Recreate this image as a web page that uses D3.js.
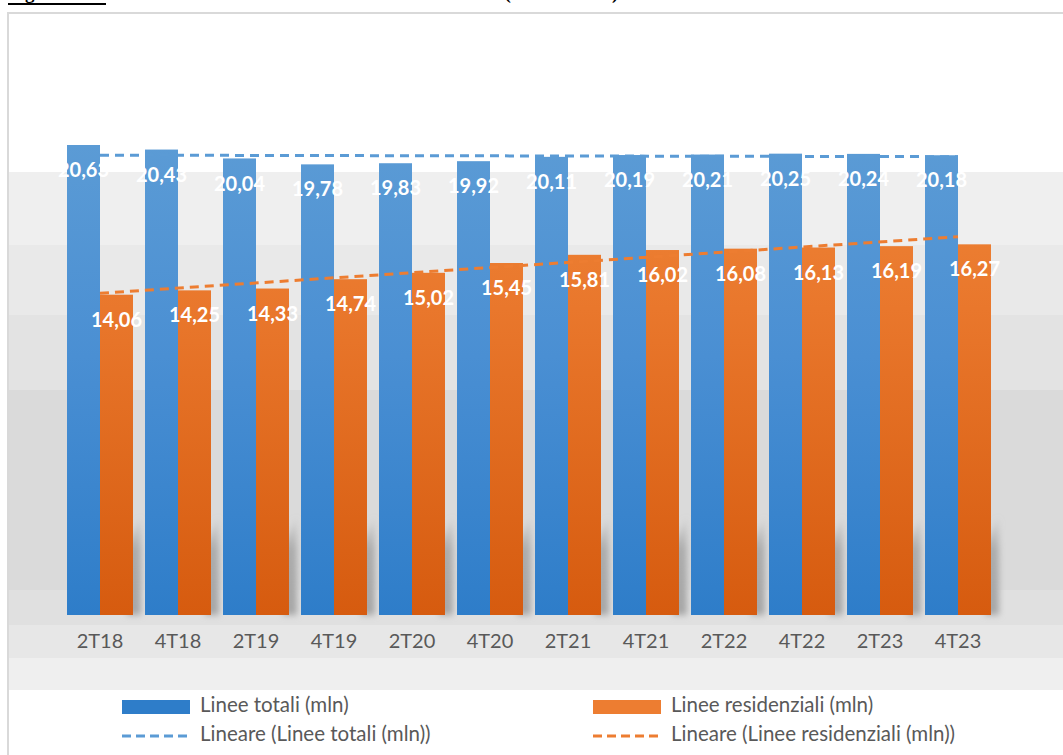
<!DOCTYPE html>
<html>
<head>
<meta charset="utf-8">
<script src="https://cdn.jsdelivr.net/npm/d3@7"></script>
<style>
  body { margin: 0; background: #fff; }
  svg { display: block; }
</style>
</head>
<body>
<svg id="chart" width="1063" height="755"></svg>
<script>
// data
const periods = ["2T18", "4T18", "2T19", "4T19", "2T20", "4T20", "2T21", "4T21", "2T22", "4T22", "2T23", "4T23"];
const lineeTotali = [20.63, 20.43, 20.04, 19.78, 19.83, 19.92, 20.11, 20.19, 20.21, 20.25, 20.24, 20.18];
const lineeResidenziali = [14.06, 14.25, 14.33, 14.74, 15.02, 15.45, 15.81, 16.02, 16.08, 16.13, 16.19, 16.27];
const seriesNames = ["Linee totali (mln)", "Linee residenziali (mln)"];
const trendNames = ["Lineare (Linee totali (mln))", "Lineare (Linee residenziali (mln))"];
const caption = "Figura 3: Andamento del numero di linee totali e residenziali (2T18 – 4T23)";

const W = 1063, H = 755;
const blue = "#5b9bd5", orange = "#ed7d31";
const fmt = v => d3.format(".2f")(v).replace(".", ",");

const svg = d3.select("#chart");
const defs = svg.append("defs");

//gradients for bars
const grad = (id, stops) => {
  const g = defs.append("linearGradient")
    .attr("id", id)
    .attr("gradientUnits", "userSpaceOnUse")
    .attr("x1", 0).attr("y1", 145).attr("x2", 0).attr("y2", 615);
  stops.forEach(s => g.append("stop").attr("offset", s[0]).attr("stop-color", s[1]));
};
grad("gBlue", [[0, "#5b9bd5"], [0.45, "#4a8fd3"], [1, "#2e7dc9"]]);
grad("gOrange", [[0, "#ef8537"], [0.35, "#e9772c"], [1, "#d65b0f"]]);

defs.append("filter").attr("id", "blur")
  .attr("x", "-50%").attr("y", "-50%").attr("width", "200%").attr("height", "200%")
  .append("feGaussianBlur").attr("stdDeviation", 3);

const shade = defs.append("linearGradient")
  .attr("id", "gShade").attr("x1", 0).attr("y1", 0).attr("x2", 0).attr("y2", 1);
shade.append("stop").attr("offset", 0).attr("stop-color", "#a0a0a0").attr("stop-opacity", 0);
shade.append("stop").attr("offset", 0.35).attr("stop-color", "#a0a0a0").attr("stop-opacity", 0.8);
shade.append("stop").attr("offset", 1).attr("stop-color", "#a6a6a6").attr("stop-opacity", 1);

//caption (cut by the top edge of the page, as in the source)
svg.append("text")
  .attr("x", 8).attr("y", -1)
  .attr("font-family", "Liberation Serif")
  .attr("font-size", 19)
  .attr("font-weight", "bold")
  .attr("fill", "#000")
  .text(caption);
svg.append("rect").attr("x", 8).attr("y", 3).attr("width", 98).attr("height", 2).attr("fill", "#000");

//background bands
const bands = [
  [13, 172, "#ffffff"], [172, 245, "#efefef"], [245, 315, "#e9e9e9"], [315, 390, "#e3e3e3"],
  [390, 590, "#dadada"], [590, 625, "#e0e0e0"], [625, 658, "#e7e7e7"], [658, 690, "#efefef"],
  [690, H, "#ffffff"]
];
svg.append("g").selectAll("rect").data(bands).join("rect")
  .attr("x", 9).attr("y", d => d[0])
  .attr("width", W - 9).attr("height", d => d[1] - d[0])
  .attr("fill", d => d[2]);

//chart frame
svg.append("rect")
  .attr("x", 8).attr("y", 13).attr("width", W + 10).attr("height", H)
  .attr("fill", "none").attr("stroke", "#d9d9d9").attr("stroke-width", 2);

//scales
const x = d3.scaleBand().domain(periods).range([61, 997]).paddingInner(0.154).paddingOuter(0.077);
const xs = d3.scaleBand().domain([0, 1]).range([0, x.bandwidth()]);
const y = d3.scaleLinear().domain([0, d3.max(lineeTotali)]).range([615, 145]);

//shadows behind groups
svg.append("g").selectAll("polygon").data(periods).join("polygon")
  .attr("points", p => {
    const x1 = x(p) + x.bandwidth();
    return [[x1 - 6, y(0)], [x1 - 6, 545], [x1 + 8, 515], [x1 + 8, y(0)]].join(" ");
  })
  .attr("fill", "url(#gShade)")
  .attr("filter", "url(#blur)");

//bars
const series = [
  { vals: lineeTotali, fill: "url(#gBlue)" },
  { vals: lineeResidenziali, fill: "url(#gOrange)" }
];
series.forEach((s, si) => {
  svg.append("g").selectAll("rect").data(s.vals).join("rect")
    .attr("x", (d, i) => x(periods[i]) + xs(si))
    .attr("y", d => y(d))
    .attr("width", xs.bandwidth())
    .attr("height", d => y(0) - y(d))
    .attr("fill", s.fill);
});

//data labels
series.forEach((s, si) => {
  svg.append("g").selectAll("text").data(s.vals).join("text")
    .attr("x", (d, i) => x(periods[i]) + xs(si) + xs.bandwidth() / 2)
    .attr("y", d => y(d) + 27)
    .attr("text-anchor", "middle")
    .attr("dominant-baseline", "middle")
    .attr("font-family", "Lato")
    .attr("font-weight", "bold")
    .attr("font-size", 20)
    .attr("fill", "#ffffff")
    .text(d => fmt(d));
});

//linear trend lines
const linReg = vals => {
  const n = vals.length;
  const mx = (n - 1) / 2;
  const my = d3.mean(vals);
  let sxy = 0, sxx = 0;
  vals.forEach((v, i) => { sxy += (i - mx) * (v - my); sxx += (i - mx) * (i - mx); });
  const b = sxy / sxx;
  return i => my + b * (i - mx);
};
const cx = i => x(periods[i]) + x.bandwidth() / 2;
[[lineeTotali, blue], [lineeResidenziali, orange]].forEach(([vals, col]) => {
  const f = linReg(vals);
  const last = vals.length - 1;
  svg.append("line")
    .attr("x1", cx(0)).attr("y1", y(f(0)))
    .attr("x2", cx(last)).attr("y2", y(f(last)))
    .attr("stroke", col).attr("stroke-width", 3)
    .attr("stroke-dasharray", "9,6");
});

//x axis
const xAxis = svg.append("g")
  .attr("transform", "translate(0,634)")
  .call(d3.axisBottom(x).tickSize(0).tickPadding(0));
xAxis.select(".domain").remove();
xAxis.selectAll("text")
  .attr("font-family", "Lato")
  .attr("font-size", 20)
  .attr("fill", "#595959");

//legend
const legendItems = [
  { name: seriesNames[0], col: blue, type: "bar", lx: 122, ly: 707 },
  { name: seriesNames[1], col: orange, type: "bar", lx: 593, ly: 707 },
  { name: trendNames[0], col: blue, type: "line", lx: 122, ly: 736 },
  { name: trendNames[1], col: orange, type: "line", lx: 593, ly: 736 }
];
const legend = svg.append("g");
legendItems.forEach(it => {
  if (it.type === "bar") {
    legend.append("rect")
      .attr("x", it.lx).attr("y", it.ly - 7)
      .attr("width", 68).attr("height", 14)
      .attr("fill", it.col === blue ? "url(#gBlue)" : it.col);
  } else {
    legend.append("line")
      .attr("x1", it.lx).attr("x2", it.lx + 68)
      .attr("y1", it.ly).attr("y2", it.ly)
      .attr("stroke", it.col).attr("stroke-width", 3)
      .attr("stroke-dasharray", "9,5");
  }
  legend.append("text")
    .attr("x", it.lx + 78).attr("y", it.ly)
    .attr("dominant-baseline", "middle")
    .attr("font-family", "Lato")
    .attr("font-size", 20.5)
    .attr("fill", "#595959")
    .text(it.name);
});
</script>
</body>
</html>
